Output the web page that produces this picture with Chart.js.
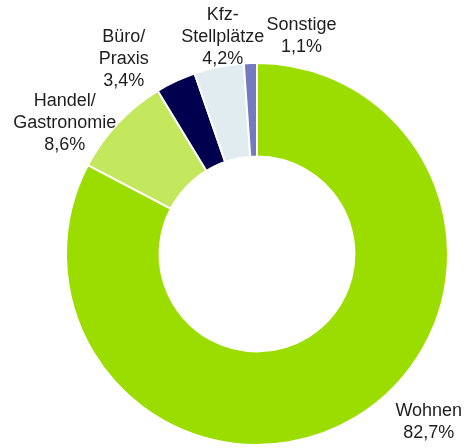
<!DOCTYPE html>
<html><head><meta charset="utf-8">
<script src="https://cdn.jsdelivr.net/npm/chart.js@4/dist/chart.umd.min.js"></script>
<style>html,body{margin:0;padding:0;background:#fff}#wrap{width:471px;height:448px}</style>
</head><body><div id="wrap"><canvas id="c" width="471" height="448"></canvas></div>
<script>
const categories = [["Wohnen"], ["Handel/", "Gastronomie"], ["Büro/", "Praxis"], ["Kfz-", "Stellplätze"], ["Sonstige"]];
const shares = [82.7, 8.6, 3.4, 4.2, 1.1];
const colors = ["#9cdd00", "#c3e85e", "#00004f", "#e0ecef", "#7479c0"];
const labelOffsets = [[73, 5], [-53, 0], [-52, -22], [4, -30], [51, -27]];

const fmt = v => v.toFixed(1).replace('.', ',') + '%';

const labelPlugin = {
  id: 'outLabels',
  afterDraw(chart) {
    const ctx = chart.ctx;
    const meta = chart.getDatasetMeta(0);
    ctx.save();
    ctx.font = '18px "Liberation Sans", Arial, sans-serif';
    ctx.fillStyle = '#1e1e1e';
    ctx.textAlign = 'center';
    ctx.textBaseline = 'middle';
    const lh = 22;
    meta.data.forEach((arc, i) => {
      const p = arc.getProps(['x', 'y', 'startAngle', 'endAngle', 'outerRadius'], true);
      const mid = (p.startAngle + p.endAngle) / 2;
      const bx = p.x + Math.cos(mid) * p.outerRadius + labelOffsets[i][0];
      const by = p.y + Math.sin(mid) * p.outerRadius + labelOffsets[i][1];
      const lines = categories[i].concat([fmt(shares[i])]);
      const y0 = by - (lines.length - 1) * lh / 2;
      lines.forEach((t, k) => ctx.fillText(t, bx, y0 + k * lh));
    });
    ctx.restore();
  }
};

new Chart(document.getElementById('c'), {
  type: 'doughnut',
  data: {
    labels: categories.map(c => c.join(' ')),
    datasets: [{
      data: shares,
      backgroundColor: colors,
      borderColor: '#ffffff',
      borderWidth: 2
    }]
  },
  options: {
    responsive: false,
    animation: false,
    cutout: '51%',
    rotation: 0,
    layout: { padding: { left: 65, right: 22, top: 62, bottom: 2 } },
    plugins: { legend: { display: false }, tooltip: { enabled: false } }
  },
  plugins: [labelPlugin]
});
</script>
</body></html>
